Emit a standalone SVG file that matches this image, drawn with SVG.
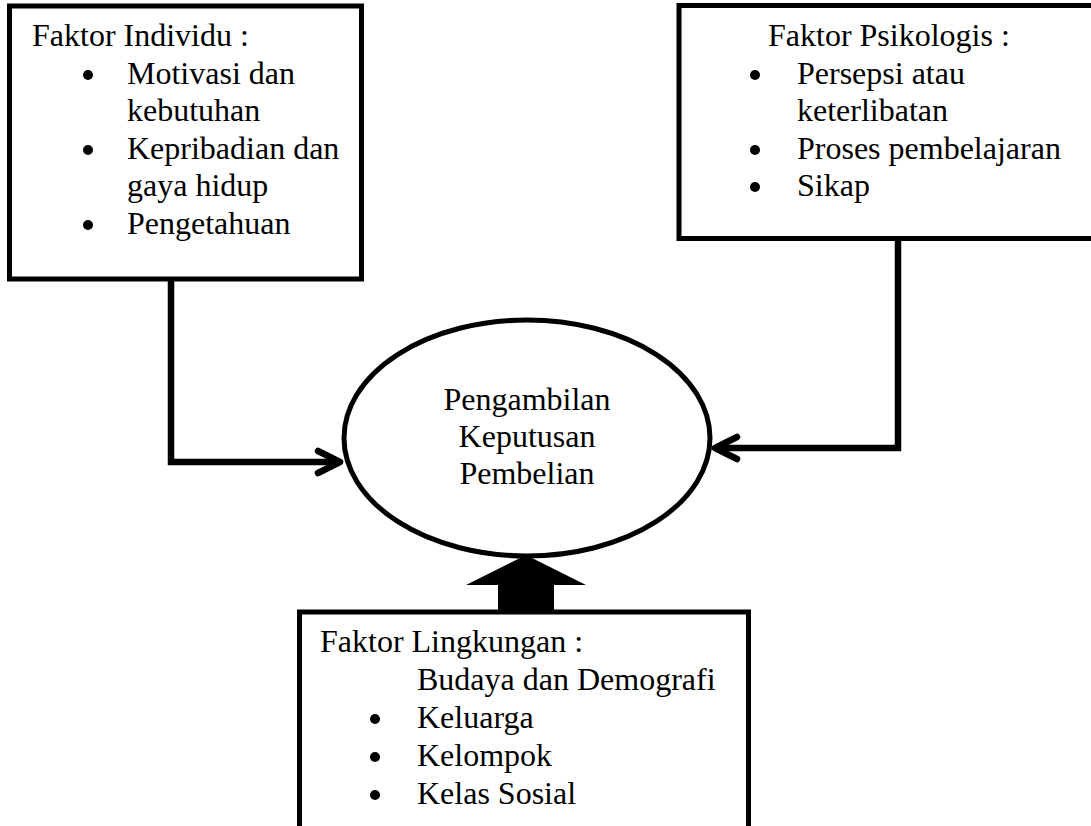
<svg xmlns="http://www.w3.org/2000/svg" width="1091" height="826" viewBox="0 0 1091 826">
  <style>
    .box { fill: #ffffff; stroke: #000000; stroke-width: 5; }
    .lbl { font-family: "Liberation Serif", "Times New Roman", serif; font-size: 32px; fill: #000000; }
    .mid { text-anchor: middle; }
    .dot { fill: #000000; }
    .wire { fill: none; stroke: #000000; stroke-width: 6.5; stroke-linejoin: miter; }
  </style>
  <defs>
    <marker id="chevron" markerUnits="userSpaceOnUse" viewBox="-30 -16 36 32" refX="0" refY="0" markerWidth="36" markerHeight="32" orient="auto" overflow="visible">
      <path d="M-22,-11 L0,0 L-22,11" fill="none" stroke="#000000" stroke-width="6.5" stroke-linecap="round" stroke-linejoin="round"/>
    </marker>
  </defs>
  <rect width="1091" height="826" fill="#ffffff"/>

  <!-- connectors -->
  <g id="connectors">
    <path class="wire" d="M171,279 V462 H340" marker-end="url(#chevron)"/>
    <path class="wire" d="M898,238 V448 H715" marker-end="url(#chevron)"/>
    <polygon id="arrow-block" points="498,612 498,585 466,585 526,555 586,585 554,585 554,612" fill="#000000"/>
  </g>

  <!-- individual factors -->
  <g id="node-individu">
    <rect class="box" x="9.5" y="6" width="352" height="273"/>
    <text class="lbl" x="32" y="46">Faktor Individu :</text>
    <circle class="dot" cx="88" cy="75" r="5"/>
    <text class="lbl" x="127" y="84">Motivasi dan</text>
    <text class="lbl" x="127" y="121">kebutuhan</text>
    <circle class="dot" cx="88" cy="150" r="5"/>
    <text class="lbl" x="127" y="159">Kepribadian dan</text>
    <text class="lbl" x="127" y="196">gaya hidup</text>
    <circle class="dot" cx="88" cy="225" r="5"/>
    <text class="lbl" x="127" y="234">Pengetahuan</text>
  </g>

  <!-- psychological factors -->
  <g id="node-psikologis">
    <rect class="box" x="679" y="5.5" width="450" height="233"/>
    <text class="lbl" x="768" y="46">Faktor Psikologis :</text>
    <circle class="dot" cx="755" cy="75" r="5"/>
    <text class="lbl" x="797" y="84">Persepsi atau</text>
    <text class="lbl" x="797" y="121">keterlibatan</text>
    <circle class="dot" cx="755" cy="150" r="5"/>
    <text class="lbl" x="797" y="159">Proses pembelajaran</text>
    <circle class="dot" cx="755" cy="187" r="5"/>
    <text class="lbl" x="797" y="196">Sikap</text>
  </g>

  <!-- purchase decision -->
  <g id="node-keputusan">
    <ellipse class="box" cx="527" cy="438" rx="183" ry="118"/>
    <text class="lbl mid" x="527" y="410">Pengambilan</text>
    <text class="lbl mid" x="527" y="447">Keputusan</text>
    <text class="lbl mid" x="527" y="484">Pembelian</text>
  </g>

  <!-- environmental factors -->
  <g id="node-lingkungan">
    <rect class="box" x="299.5" y="612" width="449" height="260"/>
    <text class="lbl" x="320" y="652">Faktor Lingkungan :</text>
    <text class="lbl" x="417" y="690">Budaya dan Demografi</text>
    <circle class="dot" cx="375" cy="719" r="5"/>
    <text class="lbl" x="417" y="728">Keluarga</text>
    <circle class="dot" cx="375" cy="757" r="5"/>
    <text class="lbl" x="417" y="766">Kelompok</text>
    <circle class="dot" cx="375" cy="795" r="5"/>
    <text class="lbl" x="417" y="804">Kelas Sosial</text>
  </g>
</svg>
